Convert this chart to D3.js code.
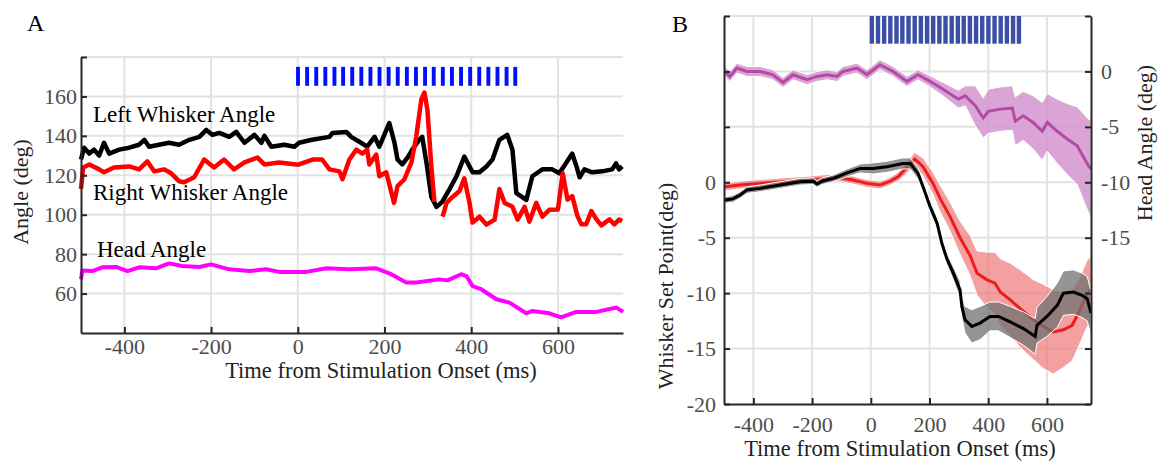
<!DOCTYPE html>
<html>
<head>
<meta charset="utf-8">
<script src="https://cdn.jsdelivr.net/npm/d3@7"></script>
<style>
  body { margin: 0; background: #fff; }
  svg text { font-family: "Liberation Serif", "Times New Roman", serif; }
  .tick text { fill: #4d4d4d; font-size: 22px; }
</style>
</head>
<body>
<svg id="chart" width="1158" height="461"></svg>
<script>
// ---------- data ----------

// stimulus pulse onsets (ms) and pulse widths
const stimOnsets = [-4, 17, 38, 59, 80, 100, 121, 142, 163, 184, 205, 226, 247, 268, 289, 309, 330, 351, 372, 393, 414, 435, 456, 477, 497];
const stimWidthA = 9, stimWidthB = 15;

// panel A: single-trial traces [time ms, angle deg]
const leftWhiskerA = [[-500,128],[-493,134],[-481,131],[-470,133],[-458,130],[-447,136.5],[-435,131],[-412,133],[-389,134],[-366,135.5],[-354,138],[-343,134.5],[-320,135.5],[-297,136.5],[-274,135.5],[-250,138],[-227,139.5],[-211,143],[-197,140.5],[-181,141.5],[-158,139.5],[-142,142],[-123,136.5],[-100,140.5],[-84,136.5],[-77,140],[-61,134.5],[-31,135.5],[-8,134.5],[3,136.5],[33,138],[73,139.5],[80,141.5],[112,142],[123,139.5],[142,137],[160,134.5],[177,139.5],[188,134.5],[211,146.5],[223,136.5],[230,128],[241,125.5],[253,129],[264,133],[280,138],[287,139.5],[297,126],[308,109],[320,104],[333,106.5],[350,113],[366,119.5],[384,129.5],[403,121.5],[419,121.5],[435,124.5],[449,128],[465,138],[483,140.5],[495,133],[504,111],[527,107.5],[541,119.5],[564,123],[587,123],[603,121],[618,126],[633,131],[642,125],[650,119],[661,123],[679,121.5],[702,122],[725,123],[734,126],[741,123],[748,124.5]];
const rightWhiskerA = [[-500,113],[-495,124],[-481,125.5],[-458,123],[-447,121.5],[-424,124],[-389,124.5],[-366,123],[-347,127],[-331,122],[-308,123],[-292,121],[-274,117],[-262,116.5],[-239,119],[-216,128],[-193,124],[-170,128],[-147,123],[-123,126.5],[-93,129],[-77,125.5],[-43,126.5],[-3,125.5],[3,125.5],[34,128],[56,128],[73,123],[96,122],[103,118],[119,128],[135,133],[149,131],[160,133],[165,125.5],[181,130.5],[188,119.5],[204,121.5],[222,106],[230,114.5],[246,118],[262,126.5],[273,139.5],[285,158.5],[292,162],[299,153],[308,124.5],[315,106.5],[324,null],[334,99],[343,106],[357,109],[373,112],[384,118.5],[396,106],[403,96],[419,99],[435,95],[454,97.5],[465,113],[477,106],[495,104],[507,97.5],[523,104],[534,96.5],[550,106],[564,99],[580,102.5],[600,102.7],[611,121],[622,107.7],[633,109.4],[645,99.3],[654,95.1],[665,95.1],[677,101.8],[689,97.6],[700,94.6],[719,97.6],[730,95.1],[741,97.6],[748,96.7]];
const headA = [[-500,67.2],[-497,71.7],[-474,71.4],[-451,73.3],[-419,73.5],[-393,71.4],[-366,73.3],[-327,72.8],[-297,75.3],[-267,74],[-227,73.5],[-200,74.8],[-158,72.3],[-112,71.4],[-73,72.3],[-43,71],[20,71],[66,72.8],[119,72.3],[181,72.8],[211,70.3],[250,65.6],[273,65.6],[326,67.2],[345,66.7],[377,69.8],[389,68.9],[403,63.8],[423,62.2],[458,57.1],[488,55.4],[527,50],[541,51.2],[580,50],[607,47.9],[642,50.7],[689,50.7],[735,52.9],[750,50.7]];

// panel B: averages [time ms, mean, error half-width]
const headB = [[-497,0,0.45],[-480,-0.45,0.45],[-456,0.3,0.45],[-422,0,0.45],[-377,0,0.45],[-333,-0.3,0.45],[-299,-1,0.45],[-265,-0.3,0.45],[-217,-0.75,0.45],[-183,-0.45,0.45],[-149,-0.3,0.45],[-115,-0.45,0.45],[-95,0,0.45],[-47,0.3,0.45],[-13,-0.3,0.45],[31,0.6,0.45],[76,0,0.45],[123,-0.9,0.45],[161,-0.3,0.45],[202,-0.9,0.5],[246,-1.6,0.6],[298,-2.5,0.8],[322,-2.2,0.9],[356,-3.1,1.8],[383,-4.2,1.8],[400,-3.6,2.0],[441,-3.4,2.0],[482,-3.3,2.0],[492,-4.5,2.2],[519,-4.0,2.2],[553,-4.6,2.4],[584,-5.4,2.6],[601,-4.6,2.6],[635,-5.4,2.9],[669,-6.1,3.2],[703,-6.7,3.5],[741,-8.5,4.2],[750,-8.8,4.4]];
const leftSetPointB = [[-497,-1.6,0.3],[-470,-1.5,0.3],[-445,-1.15,0.3],[-422,-0.7,0.3],[-377,-0.55,0.3],[-309,-0.25,0.3],[-241,0.05,0.3],[-196,0.1,0.3],[-183,-0.15,0.3],[-166,0.1,0.3],[-128,0.35,0.3],[-81,0.85,0.35],[-36,1.25,0.4],[8,1.25,0.5],[55,1.4,0.5],[110,1.7,0.5],[134,1.7,0.5],[161,0.8,0.5],[178,-0.4,0.5],[202,-2.2,0.5],[226,-3.7,0.5],[242,-5.5,0.5],[259,-6.9,0.5],[281,-8.2,0.6],[304,-9.7,0.8],[310,-11.2,1.0],[321,-12.4,1.2],[344,-13.0,1.5],[372,-12.7,1.5],[406,-12.1,1.3],[435,-12.1,1.3],[475,-12.6,1.4],[520,-13.2,1.5],[560,-13.9,1.6],[566,-12.9,1.6],[600,-12.1,1.8],[635,-11.1,2.0],[656,-10.0,2.0],[690,-9.9,2.0],[720,-10.2,2.0],[737,-10.5,2.0],[750,-11.8,2.0]];
const rightSetPointB = [[-497,-0.4,0.35],[-445,-0.25,0.35],[-377,-0.1,0.35],[-299,0.05,0.35],[-217,0.2,0.35],[-149,0.35,0.35],[-105,0.4,0.35],[-60,0.2,0.35],[-13,-0.1,0.35],[31,-0.25,0.35],[62,0.05,0.35],[93,0.5,0.4],[150,2.1,0.6],[178,1.4,0.8],[212,-0.1,1.0],[236,-1.45,1.2],[270,-3.1,1.3],[304,-5.0,1.5],[338,-6.6,1.8],[362,-8.2,2.0],[396,-8.8,2.5],[423,-9.1,2.8],[441,-9.9,3.0],[475,-10.6,3.3],[509,-11.4,3.5],[554,-12.4,3.6],[588,-13.0,3.8],[622,-13.5,3.8],[656,-13.3,3.4],[686,-12.9,3.2],[713,-11.5,3.0],[737,-10.0,3.0],[750,-9.7,3.0]];

// ticks
const timeTicks = [-400, -200, 0, 200, 400, 600];
const angleTicksA = [60, 80, 100, 120, 140, 160, 180];
const setPointTicks = [-20, -15, -10, -5, 0, 5, 10, 15];
const headTicksB = [-30, -25, -20, -15, -10, -5, 0, 5];

// ---------- drawing ----------
const svg = d3.select("#chart");
const gridColor = "#e2e2e2";
const spineColor = "#262626";
const fmt = d => String(d);   // plain hyphen minus, like the figure

////////// Panel A //////////
const xA = d3.scaleLinear().domain([-500, 750]).range([81, 623]);
const yA = d3.scaleLinear().domain([40, 180]).range([333, 57]);
const gA = svg.append("g");

// grid
gA.selectAll(".vgrid").data(timeTicks).enter().append("line")
    .attr("x1", d => xA(d)).attr("x2", d => xA(d))
    .attr("y1", yA(40)).attr("y2", yA(180))
    .attr("stroke", gridColor).attr("stroke-width", 2);
gA.selectAll(".hgrid").data(angleTicksA).enter().append("line")
    .attr("x1", xA(-500)).attr("x2", xA(750))
    .attr("y1", d => yA(d)).attr("y2", d => yA(d))
    .attr("stroke", gridColor).attr("stroke-width", 2);

// stimulus
gA.selectAll(".stim").data(stimOnsets).enter().append("rect")
    .attr("x", d => xA(d)).attr("width", d => xA(d + stimWidthA) - xA(d))
    .attr("y", yA(175)).attr("height", yA(165.4) - yA(175))
    .attr("fill", "#0010ff");

const lineA = d3.line().defined(d => d[1] !== null).x(d => xA(d[0])).y(d => yA(d[1]));
gA.append("path").datum(headA).attr("d", lineA)
    .attr("fill", "none").attr("stroke", "#ff00ff").attr("stroke-width", 4).attr("stroke-linejoin", "round");
gA.append("path").datum(leftWhiskerA).attr("d", lineA)
    .attr("fill", "none").attr("stroke", "#000").attr("stroke-width", 4.5).attr("stroke-linejoin", "round");
gA.append("path").datum(rightWhiskerA).attr("d", lineA)
    .attr("fill", "none").attr("stroke", "#ff0000").attr("stroke-width", 4.5).attr("stroke-linejoin", "round");

// axes
const axA_y = gA.append("g").attr("transform", `translate(${xA(-500)},0)`)
    .call(d3.axisLeft(yA).tickValues(angleTicksA).tickFormat(d => d === 180 ? "" : fmt(d))
        .tickSizeInner(-6).tickSizeOuter(0).tickPadding(4));
const axA_x = gA.append("g").attr("transform", `translate(0,${yA(40)})`)
    .call(d3.axisBottom(xA).tickValues(timeTicks).tickFormat(fmt).tickSizeInner(-6).tickSizeOuter(0).tickPadding(5));
[axA_y, axA_x].forEach(a => {
    a.select(".domain").attr("stroke", spineColor).attr("stroke-width", 2);
    a.selectAll(".tick line").attr("stroke", spineColor).attr("stroke-width", 2);
});

// labels
gA.append("text").attr("x", 93).attr("y", 122).style("font-size", "23px").text("Left Whisker Angle");
gA.append("text").attr("x", 93).attr("y", 200).style("font-size", "23px").text("Right Whisker Angle");
gA.append("text").attr("x", 97).attr("y", 257).style("font-size", "23px").text("Head Angle");
gA.append("text").attr("transform", "translate(28,192) rotate(-90)").attr("text-anchor", "middle")
    .style("font-size", "22px").attr("fill", "#222").text("Angle (deg)");
gA.append("text").attr("x", 381).attr("y", 378).attr("text-anchor", "middle")
    .style("font-size", "22.5px").attr("fill", "#222").text("Time from Stimulation Onset (ms)");
svg.append("text").attr("x", 27).attr("y", 31).style("font-size", "24px").text("A");

////////// Panel B //////////
const xB = d3.scaleLinear().domain([-500, 750]).range([724, 1091]);
const yB = d3.scaleLinear().domain([-20, 15]).range([404, 16]);
const yH = d3.scaleLinear().domain([-30, 5]).range([404, 16]);
const gB = svg.append("g");

gB.selectAll(".vgrid").data(timeTicks).enter().append("line")
    .attr("x1", d => xB(d)).attr("x2", d => xB(d))
    .attr("y1", yB(-20)).attr("y2", yB(15))
    .attr("stroke", gridColor).attr("stroke-width", 2);
gB.selectAll(".hgrid").data(setPointTicks.slice(1)).enter().append("line")
    .attr("x1", xB(-500)).attr("x2", xB(750))
    .attr("y1", d => yB(d)).attr("y2", d => yB(d))
    .attr("stroke", gridColor).attr("stroke-width", 2);

gB.selectAll(".stim").data(stimOnsets).enter().append("rect")
    .attr("x", d => xB(d)).attr("width", d => xB(d + stimWidthB) - xB(d))
    .attr("y", yB(15)).attr("height", yB(12.5) - yB(15))
    .attr("fill", "#3b4fa6");

function bandFor(y) {
    return d3.area().x(d => xB(d[0])).y0(d => y(d[1] - d[2])).y1(d => y(d[1] + d[2]));
}
function lineFor(y) {
    return d3.line().x(d => xB(d[0])).y(d => y(d[1]));
}

// head angle (right axis)
gB.append("path").datum(headB).attr("d", bandFor(yH))
    .attr("fill", "#d495cf").attr("fill-opacity", 0.85).attr("stroke", "#fff").attr("stroke-width", 1);
gB.append("path").datum(headB).attr("d", lineFor(yH))
    .attr("fill", "none").attr("stroke", "#b24aa6").attr("stroke-width", 3);

// right whisker set point
gB.append("path").datum(rightSetPointB).attr("d", bandFor(yB))
    .attr("fill", "#f07878").attr("fill-opacity", 0.7).attr("stroke", "#fff").attr("stroke-width", 1);
gB.append("path").datum(rightSetPointB).attr("d", lineFor(yB))
    .attr("fill", "none").attr("stroke", "#ee1c1c").attr("stroke-width", 3);

// left whisker set point
gB.append("path").datum(leftSetPointB).attr("d", bandFor(yB))
    .attr("fill", "#707070").attr("fill-opacity", 0.75).attr("stroke", "#fff").attr("stroke-width", 1);
gB.append("path").datum(leftSetPointB).attr("d", lineFor(yB))
    .attr("fill", "none").attr("stroke", "#000").attr("stroke-width", 3);

const axB_y = gB.append("g").attr("transform", `translate(${xB(-500)},0)`)
    .call(d3.axisLeft(yB).tickValues(setPointTicks).tickFormat(d => d > 0 ? "" : fmt(d))
        .tickSizeInner(-6).tickSizeOuter(0).tickPadding(8));
const axB_r = gB.append("g").attr("transform", `translate(${xB(750)},0)`)
    .call(d3.axisRight(yH).tickValues(headTicksB).tickFormat(d => (d > 0 || d < -15) ? "" : fmt(d))
        .tickSizeInner(-6).tickSizeOuter(0).tickPadding(10));
const axB_x = gB.append("g").attr("transform", `translate(0,${yB(-20)})`)
    .call(d3.axisBottom(xB).tickValues(timeTicks).tickFormat(fmt).tickSizeInner(-6).tickSizeOuter(0).tickPadding(12));
[axB_y, axB_r, axB_x].forEach(a => {
    a.select(".domain").attr("stroke", spineColor).attr("stroke-width", 2);
    a.selectAll(".tick line").attr("stroke", spineColor).attr("stroke-width", 2);
});

gB.append("text").attr("transform", "translate(673,286) rotate(-90)").attr("text-anchor", "middle")
    .style("font-size", "22px").attr("fill", "#222").text("Whisker Set Point(deg)");
gB.append("text").attr("transform", "translate(1152,143) rotate(-90)").attr("text-anchor", "middle")
    .style("font-size", "22px").attr("fill", "#222").text("Head Angle (deg)");
gB.append("text").attr("x", 900).attr("y", 456).attr("text-anchor", "middle")
    .style("font-size", "22.5px").attr("fill", "#222").text("Time from Stimulation Onset (ms)");
svg.append("text").attr("x", 672).attr("y", 32).style("font-size", "24px").text("B");
</script>
</body>
</html>
